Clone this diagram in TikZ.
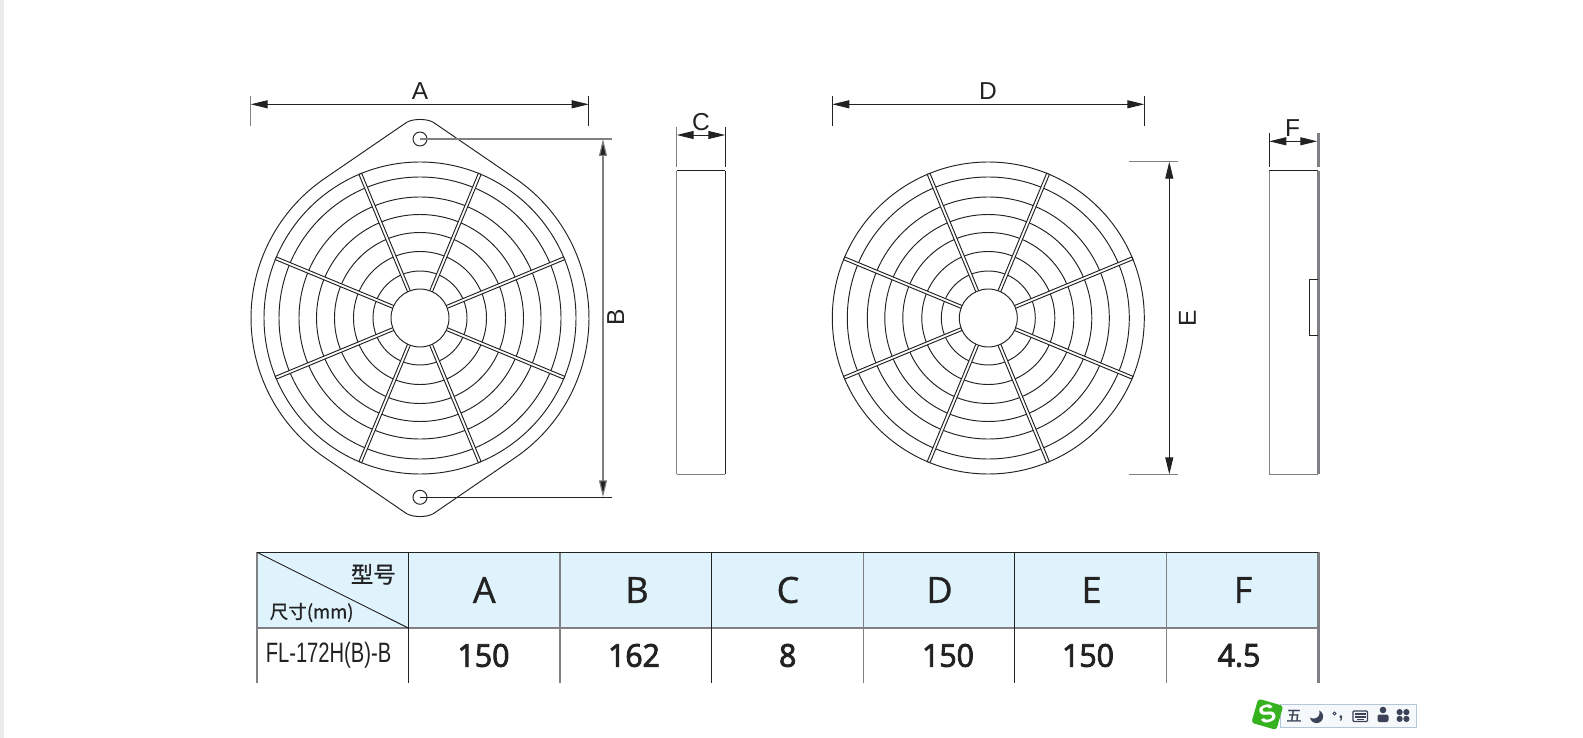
\documentclass[tikz,border=0pt]{standalone}
\usepackage{fontspec}
\usetikzlibrary{arrows.meta}
\setmainfont{Liberation Sans}
\newfontfamily\tabfont[FakeBold=0.9]{Open Sans}
\newfontfamily\numfont[FakeBold=2.6,FakeStretch=0.96]{Open Sans}
\newfontfamily\narrowfont[FakeStretch=0.72]{Liberation Sans}
\newfontfamily\cjk[FakeBold=0.9]{Noto Sans CJK SC}
\newfontfamily\cjkb[FakeBold=1.6]{Noto Sans CJK SC}
\definecolor{ink}{HTML}{222222}
\definecolor{soft}{HTML}{808084}
\definecolor{headbg}{HTML}{DFF3FC}
\definecolor{imeink}{HTML}{3C4258}
\definecolor{imebg}{HTML}{F6F9FC}
\definecolor{imeedge}{HTML}{B4C6D8}
\definecolor{imegreen}{HTML}{35B21E}
\tikzset{
  thin line/.style={draw=ink,line width=0.95pt},
  soft line/.style={draw=soft,line width=1.3pt},
  heavy line/.style={draw=soft,line width=2.4pt},
  dimtip/.style={{Triangle[length=17pt,width=8pt,fill=ink]}-{Triangle[length=17pt,width=8pt,fill=ink]}},
  dimlabel/.style={inner sep=0pt,text=ink,font=\fontsize{24.5}{26}\selectfont},
  headcell/.style={inner sep=0pt,text=ink,font=\tabfont\fontsize{36}{38}\selectfont},
  numcell/.style={inner sep=0pt,text=ink,font=\numfont\fontsize{31.5}{34}\selectfont},
  guard/.pic={
    \foreach \r in {156,141,121,103.5,85.5,66.5,47}
      \draw[thin line] (0,0) circle[radius=\r];
    \foreach \a in {22.5,67.5,...,337.5}
      \draw[thin line,fill=white,rotate=\a] (27,-1.5) rectangle (156,1.5);
    \draw[thin line,fill=white] (0,0) circle[radius=29];
  }
}
\begin{document}
\begin{tikzpicture}[x=1pt,y=-1pt]
\useasboundingbox (0,0) rectangle (1583,738);
\fill[white] (0,0) rectangle (1583,738);
\fill[black!8] (0,0) rectangle (4,738);

% ---------- left guard with plate
\begin{scope}[shift={(420,318)},y=1pt]
  \draw[thin line] (55.6:169) arc[start angle=55.6,end angle=-55.6,radius=169]
    -- (13.3,-195.7) .. controls (6.5,-199.5) and (-6.5,-199.5) .. (-13.3,-195.7)
    -- (-124.4:169) arc[start angle=-124.4,end angle=-235.6,radius=169]
    -- (-13.3,195.7) .. controls (-6.5,199.5) and (6.5,199.5) .. (13.3,195.7) -- cycle;
\end{scope}
\pic at (420,318) {guard};
\node[thin line,circle,minimum size=14pt,inner sep=0pt] (holetop) at (420,139) {};
\node[thin line,circle,minimum size=14pt,inner sep=0pt] (holebot) at (420,497.3) {};

% A
\coordinate (al0) at (250.7,96); \coordinate (al1) at (250.7,126);
\coordinate (ar0) at (588.7,96); \coordinate (ar1) at (588.7,126);
\coordinate (am0) at (250.7,104.3); \coordinate (am1) at (588.7,104.3);
\draw[soft line] (al0) -- (al1);
\draw[thin line] (ar0) -- (ar1);
\draw[thin line,dimtip] (am0) -- (am1);
\node[dimlabel] (la) at (420,91.5) {A};

% B
\coordinate (bt) at (611.7,139); \coordinate (bb) at (611.7,497.3);
\coordinate (bm0) at (603,139); \coordinate (bm1) at (603,497.3);
\draw[soft line] (holetop.center) -- (bt);
\draw[thin line] (holebot.center) -- (bb);
\draw[soft line,line width=1.1pt,dimtip] (bm0) -- (bm1);
\node[dimlabel,rotate=90] (lb) at (615.7,317.7) {B};

% side view C
\coordinate (cr0) at (676.7,170.7); \coordinate (cr1) at (725.3,170.7);
\coordinate (cr2) at (725.3,474.3); \coordinate (cr3) at (676.7,474.3);
\draw[thin line] (cr0) -- (cr1);
\draw[thin line] (cr1) -- (cr2);
\draw[soft line] (cr2) -- (cr3);
\draw[soft line] (cr3) -- (cr0);
\coordinate (cl0) at (676.7,126.7); \coordinate (cl1) at (676.7,166.7);
\coordinate (cx0) at (725.3,126.7); \coordinate (cx1) at (725.3,166.7);
\coordinate (cm0) at (676.7,135); \coordinate (cm1) at (725.3,135);
\draw[soft line] (cl0) -- (cl1);
\draw[thin line] (cx0) -- (cx1);
\draw[thin line,dimtip] (cm0) -- (cm1);
\node[dimlabel] (lc) at (701,122.5) {C};

% right guard
\pic at (988.3,318) {guard};
% D
\coordinate (dl0) at (832.3,96); \coordinate (dl1) at (832.3,126.3);
\coordinate (dr0) at (1144.3,96); \coordinate (dr1) at (1144.3,126.3);
\coordinate (dm0) at (832.3,104.3); \coordinate (dm1) at (1144.3,104.3);
\draw[thin line] (dl0) -- (dl1);
\draw[thin line] (dr0) -- (dr1);
\draw[thin line,dimtip] (dm0) -- (dm1);
\node[dimlabel] (ld) at (988,91.5) {D};
% E
\coordinate (et0) at (1129.3,161.7); \coordinate (et1) at (1178.3,161.7);
\coordinate (eb0) at (1129.3,474.3); \coordinate (eb1) at (1178.3,474.3);
\coordinate (em0) at (1169.3,161.7); \coordinate (em1) at (1169.3,474.3);
\draw[soft line] (et0) -- (et1);
\draw[soft line] (eb0) -- (eb1);
\draw[thin line,dimtip] (em0) -- (em1);
\node[dimlabel,rotate=90] (le) at (1187.5,318) {E};

% side view F
\coordinate (fr0) at (1269.3,170.7); \coordinate (fr1) at (1318.3,170.7);
\coordinate (fr2) at (1318.3,474.3); \coordinate (fr3) at (1269.3,474.3);
\draw[thin line] (fr0) -- (fr1);
\draw[heavy line] (fr1) -- (fr2);
\draw[soft line] (fr2) -- (fr3);
\draw[soft line,line width=1.1pt] (fr3) -- (fr0);
\coordinate (n0) at (1318,279.3); \coordinate (n1) at (1309.3,279.3);
\coordinate (n2) at (1309.3,335.7); \coordinate (n3) at (1318,335.7);
\draw[thin line] (n0) -- (n1) -- (n2) -- (n3);
\coordinate (fl0) at (1269.3,133); \coordinate (fl1) at (1269.3,166.7);
\coordinate (fx0) at (1318.3,133); \coordinate (fx1) at (1318.3,166.7);
\coordinate (fm0) at (1269.3,141.3); \coordinate (fm1) at (1317.3,141.3);
\draw[thin line] (fl0) -- (fl1);
\draw[heavy line] (fx0) -- (fx1);
\draw[thin line,dimtip] (fm0) -- (fm1);
\node[dimlabel] (lf) at (1292.7,128.5) {F};

% ---------- table
\fill[headbg] (257,552.3) rectangle (1318,628);
\coordinate (tl) at (257,552.3); \coordinate (tr) at (1318.3,552.3);
\coordinate (ml) at (257,628); \coordinate (mr) at (1318.3,628);
\coordinate (bl) at (257,682.7); \coordinate (br) at (1318.3,682.7);
\coordinate (d1) at (408.3,628);
\draw[soft line] (tl) -- (bl);
\draw[soft line,line width=1.5pt] (ml) -- (mr);
\foreach \x/\s in {408.3/thin line,560/soft line,711.3/thin line,863.3/soft line,1014.3/thin line,1166.3/soft line}
  \draw[\s] (\x,552.3) -- (\x,682.7);
\draw[heavy line] (tr) -- (br);
\draw[thin line] (tl) -- (tr);
\draw[thin line] (tl) -- (d1);

\node[inner sep=0pt,text=ink,font=\cjk\fontsize{22.5}{24}\selectfont] (xh) at (373.3,574.3) {型号};
\node[inner sep=0pt,text=ink,font=\cjk\fontsize{18.5}{20}\selectfont] (cc) at (311.7,612.5) {尺寸(mm)};
\node[inner sep=0pt,text=ink,font=\narrowfont\fontsize{28}{30}\selectfont] (model) at (328.5,655.5) {FL-172H(B)-B};
\node[headcell] (ha) at (484.3,590) {A};
\node[headcell] (hb) at (637,590) {B};
\node[headcell] (hc) at (788,590) {C};
\node[headcell] (hd) at (939.5,590) {D};
\node[headcell] (he) at (1091.5,590) {E};
\node[headcell] (hf) at (1243,590) {F};
\node[numcell] (va) at (483.5,655.5) {150};
\node[numcell] (vb) at (634,655.5) {162};
\node[numcell] (vc) at (787.7,655.5) {8};
\node[numcell] (vd) at (948,655.5) {150};
\node[numcell] (ve) at (1088,655.5) {150};
\node[numcell] (vf) at (1239,655.5) {4.5};

% ---------- IME status bar
\draw[draw=imeedge,fill=imebg,line width=1pt] (1280,704) rectangle (1416.7,727.3);
\fill[imegreen,rounded corners=3pt,rotate around={-16:(1267.3,714.3)}] (1254.3,701.8) rectangle (1280.3,726.8);
\node[inner sep=0pt,text=white,rotate=16,font=\bfseries\fontsize{25}{26}\selectfont] (ims) at (1267.3,714.3) {S};
\node[inner sep=0pt,text=imeink,font=\cjkb\fontsize{15}{16}\selectfont] (im5) at (1294,715.7) {五};
% moon
\fill[imeink] (1316.5,716.5) circle[radius=6.6];
\fill[imebg] (1313.5,712.5) circle[radius=6];
% degree and comma
\draw[imeink,line width=0.9pt] (1334.5,713.5) circle[radius=1.5];
\node[inner sep=0pt,text=imeink,font=\bfseries\fontsize{17}{18}\selectfont] (imc) at (1341,719) {,};
% keyboard
\draw[imeink,line width=1.3pt,fill=imebg,rounded corners=1pt] (1353,711) rectangle (1367.5,721.5);
\fill[imeink] (1355,713) rectangle (1365.5,715);
\fill[imeink] (1355,716) rectangle (1365.5,718);
\fill[imeink] (1357,719) rectangle (1363.5,720.3);
% person
\fill[imeink] (1383,710) circle[radius=3.3];
\fill[imeink,rounded corners=2pt] (1377.5,714.5) rectangle (1388.5,722);
% clover
\foreach \dx/\dy in {-3.4/-3.4,3.4/-3.4,-3.4/3.4,3.4/3.4}
  \fill[imeink] (1403+\dx,715.5+\dy) circle[radius=3.1];
\end{tikzpicture}
\end{document}
